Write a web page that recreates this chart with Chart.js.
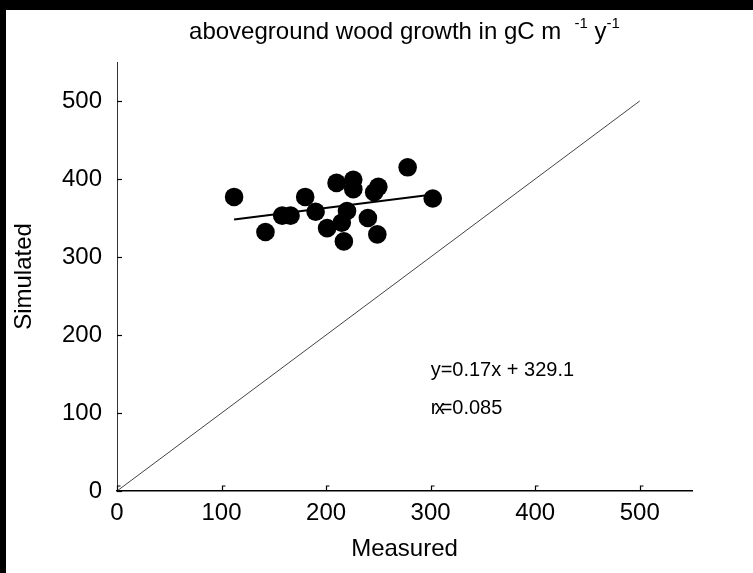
<!DOCTYPE html>
<html>
<head>
<meta charset="utf-8">
<script src="https://cdn.jsdelivr.net/npm/chart.js@4.4.0/dist/chart.umd.min.js"></script>
<style>
  html, body { margin: 0; padding: 0; background: #000; width: 753px; height: 573px; overflow: hidden; }
  #wrap { position: absolute; left: 6px; top: 10px; width: 747px; height: 563px; background: #fff; }
</style>
</head>
<body>
<div id="wrap"><canvas id="myChart" width="747" height="563"></canvas></div>
<script>
// data
const measured  = [112, 142, 158, 166, 180, 190, 201, 210, 226, 226, 220, 215, 217, 240, 249, 250, 246, 278, 302];
const simulated = [377, 332, 353, 353, 377, 358, 337, 395, 399, 387, 359, 344, 320, 350, 329, 390, 383, 415, 375];
const fitX = [112, 302];
const fitY = [348, 380];
const oneToOneX = [0, 500];
const oneToOneY = [0, 500];
const tickValues = [0, 100, 200, 300, 400, 500];

const FONT = '"Liberation Sans", Arial, Helvetica, sans-serif';

const toPoints = (xs, ys) => xs.map((x, i) => ({x: x, y: ys[i]}));

// title with superscripts, regression text, inward tick marks
const extras = {
    id: 'extras',
    afterDraw(chart) {
        const ctx = chart.ctx;
        const xs = chart.scales.x, ys = chart.scales.y;
        const area = chart.chartArea;
        ctx.save();
        ctx.fillStyle = '#000';
        ctx.strokeStyle = '#000';
        ctx.lineWidth = 1.2;

        // tick marks pointing inward
        tickValues.forEach(v => {
            const px = Math.round(xs.getPixelForValue(v)) + 0.5;
            ctx.beginPath();
            ctx.moveTo(px, area.bottom);
            ctx.lineTo(px, area.bottom - 5);
            ctx.lineTo(px + 3, area.bottom - 5);
            ctx.stroke();
            const py = Math.round(ys.getPixelForValue(v)) + 0.5;
            ctx.beginPath();
            ctx.moveTo(area.left, py);
            ctx.lineTo(area.left + 5, py);
            ctx.stroke();
        });

        // title
        const parts = [
            {t: 'aboveground wood growth in gC m', sup: false},
            {t: '  ', sup: false},
            {t: '-1', sup: true},
            {t: ' y', sup: false},
            {t: '-1', sup: true}
        ];
        const big = '24px ' + FONT, small = '15px ' + FONT;
        let w = 0;
        parts.forEach(p => { ctx.font = p.sup ? small : big; p.w = ctx.measureText(p.t).width; w += p.w; });
        let x = (area.left + area.right) / 2 - w / 2;
        const ty = 22;
        ctx.textBaseline = 'middle';
        ctx.textAlign = 'left';
        parts.forEach(p => {
            ctx.font = p.sup ? small : big;
            ctx.fillText(p.t, x, p.sup ? ty - 8 : ty);
            x += p.w;
        });

        // regression text
        ctx.font = '20px ' + FONT;
        const ax = xs.getPixelForValue(300);
        ctx.fillText('y=0.17x + 329.1', ax, ys.getPixelForValue(155));
        const ry = ys.getPixelForValue(106);
        ctx.fillText('r', ax, ry);
        ctx.fillText('x', ax + 4, ry);
        ctx.fillText('=0.085', ax + 10, ry);
        ctx.restore();
    }
};

const axisCommon = {
    type: 'linear',
    min: 0,
    max: 550,
    afterBuildTicks: s => { s.ticks = tickValues.map(v => ({value: v})); },
    grid: {display: false, drawTicks: false},
    border: {display: true, color: '#000', width: 1.5},
};

new Chart(document.getElementById('myChart').getContext('2d'), {
    type: 'scatter',
    data: {
        datasets: [
            {
                label: 'points',
                data: toPoints(measured, simulated),
                pointRadius: 9.3,
                pointHoverRadius: 9.3,
                backgroundColor: '#000',
                borderColor: '#000',
                borderWidth: 0
            },
            {
                label: 'fit',
                data: toPoints(fitX, fitY),
                showLine: true,
                pointRadius: 0,
                borderColor: '#000',
                borderWidth: 2
            },
            {
                label: '1:1',
                data: toPoints(oneToOneX, oneToOneY),
                showLine: true,
                pointRadius: 0,
                borderColor: '#444',
                borderWidth: 1
            }
        ]
    },
    options: {
        responsive: false,
        animation: false,
        layout: {padding: {top: 52, right: 61, left: 0, bottom: 0}},
        plugins: {legend: {display: false}, tooltip: {enabled: false}, title: {display: false}},
        scales: {
            x: Object.assign({}, axisCommon, {
                afterFit: s => { s.height = 82; },
                ticks: {color: '#000', font: {family: FONT, size: 24}, padding: 8},
                title: {display: true, text: 'Measured', color: '#000', font: {family: FONT, size: 24}, padding: {bottom: 9}}
            }),
            y: Object.assign({}, axisCommon, {
                afterFit: s => { s.width = 111; },
                border: {display: true, color: '#333', width: 1},
                ticks: {color: '#000', font: {family: FONT, size: 24}, padding: 15},
                title: {display: true, text: 'Simulated', color: '#000', font: {family: FONT, size: 24}, padding: {top: 4}}
            })
        }
    },
    plugins: [extras]
});
</script>
</body>
</html>
